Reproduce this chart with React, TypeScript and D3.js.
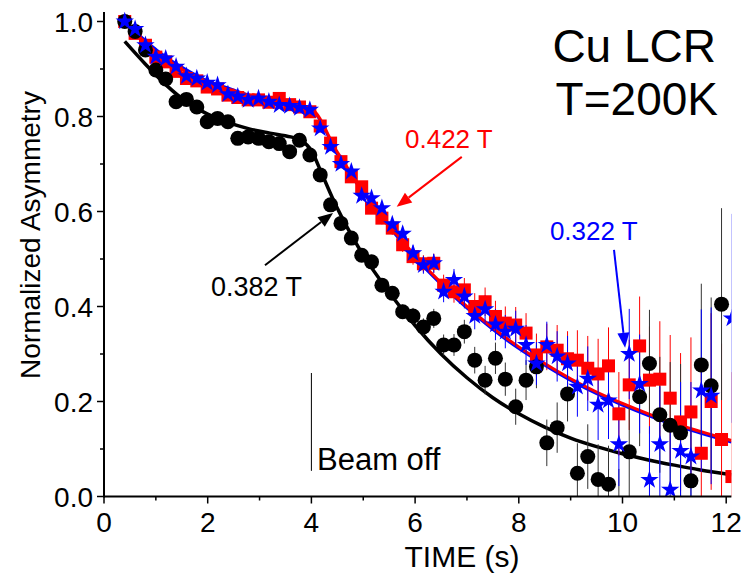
import React from 'react';
import * as d3 from 'd3';

// time bins (s)
const times = [0.40,0.60,0.80,1.00,1.19,1.39,1.59,1.79,1.99,2.19,2.39,2.58,2.78,2.98,3.18,3.38,3.58,3.77,3.97,4.17,4.37,4.57,4.77,4.97,5.16,5.36,5.56,5.76,5.96,6.16,6.36,6.55,6.75,6.95,7.15,7.35,7.55,7.74,7.94,8.14,8.34,8.54,8.74,8.94,9.13,9.33,9.53,9.73,9.93,10.13,10.33,10.52,10.72,10.92,11.12,11.32,11.52,11.71,11.91,12.11];

// 0.382 T (black circles)
const black = [1.0,0.979,0.94,0.898,0.879,0.831,0.836,0.82,0.789,0.796,0.789,0.754,0.757,0.754,0.747,0.743,0.726,0.75,0.719,0.677,0.614,0.575,0.544,0.508,0.494,0.445,0.428,0.389,0.38,0.357,0.375,0.319,0.319,0.347,0.287,0.245,0.291,0.247,0.189,0.245,0.273,0.113,0.145,0.216,0.049,0.084,0.036,0.026,-0.03,0.094,0.21,0.28,0.172,0.15,0.134,0.033,0.277,0.233,0.405];

// 0.422 T (red squares)
const red = [1.0,0.975,0.95,0.925,0.915,0.895,0.88,0.875,0.862,0.858,0.845,0.84,0.835,0.835,0.83,0.838,0.825,0.82,0.81,0.78,0.744,0.705,0.673,0.652,0.607,0.586,0.565,0.53,0.505,0.49,0.491,0.445,0.431,0.435,0.40,0.41,0.379,0.365,0.361,0.344,0.298,0.315,0.308,0.29,0.287,0.27,0.258,0.275,0.174,0.235,0.317,0.245,0.247,0.207,0.157,0.178,0.091,0.2,0.12,0.042];

// 0.322 T (blue stars); null = not visible
const blue: (number | null)[] = [1.0,0.984,0.95,0.926,0.922,0.905,0.885,0.88,0.871,0.866,0.847,0.842,0.835,0.838,0.831,0.824,0.822,0.818,0.814,0.775,0.736,0.70,0.684,0.633,0.628,0.607,0.573,0.553,0.512,0.487,0.491,0.431,0.456,0.421,0.38,0.394,0.362,0.347,0.353,0.319,0.28,0.319,0.295,0.28,0.231,0.248,0.193,0.202,0.11,0.30,0.237,0.035,0.11,0.014,0.096,0.084,0.223,0.212,null,0.375];

// error bars (half-length)
const errs = [0.002,0.002,0.002,0.002,0.003,0.003,0.003,0.003,0.003,0.004,0.004,0.004,0.004,0.005,0.005,0.006,0.006,0.007,0.007,0.008,0.009,0.009,0.010,0.011,0.012,0.013,0.014,0.015,0.017,0.018,0.020,0.022,0.023,0.025,0.028,0.030,0.033,0.035,0.038,0.042,0.045,0.049,0.053,0.058,0.063,0.068,0.074,0.081,0.088,0.095,0.104,0.113,0.122,0.133,0.145,0.157,0.171,0.186,0.202,0.220];

// fit curves
const fitTBlack = [0.4,0.8,1.2,1.6,2.0,2.4,2.8,3.2,3.6,3.8,4.0,4.2,4.4,4.6,4.8,5.0,5.5,6.0,6.5,7.0,7.5,8.0,8.5,9.0,9.5,10.0,10.5,11.0,11.5,12.1];
const fitBlack = [0.958,0.91,0.866,0.83,0.805,0.787,0.774,0.765,0.757,0.75,0.728,0.68,0.63,0.585,0.545,0.508,0.43,0.36,0.3,0.25,0.208,0.174,0.146,0.123,0.105,0.09,0.077,0.066,0.056,0.046];
const fitT = [0.4,0.8,1.2,1.6,2.0,2.4,2.8,3.2,3.6,4.0,4.5,5.0,5.5,6.0,6.5,7.0,7.5,8.0,8.5,9.0,9.5,10.0,10.5,11.0,11.5,12.1];
const fitRed = [1.0,0.955,0.92,0.893,0.872,0.857,0.845,0.835,0.826,0.816,0.725,0.643,0.571,0.507,0.45,0.40,0.355,0.315,0.28,0.248,0.22,0.196,0.174,0.154,0.137,0.118];
const fitBlue = [1.0,0.96,0.925,0.898,0.875,0.86,0.845,0.835,0.824,0.814,0.72,0.639,0.567,0.503,0.446,0.396,0.351,0.311,0.276,0.244,0.216,0.192,0.17,0.15,0.133,0.114];

const xTicks = [0, 2, 4, 6, 8, 10, 12];
const xMinor = [1, 3, 5, 7, 9, 11];
const yTicks = [0, 0.2, 0.4, 0.6, 0.8, 1.0];
const yMinor = [0.1, 0.3, 0.5, 0.7, 0.9];

const FONT = "'Liberation Sans', Arial, sans-serif";

export default function App() {
  const W = 741, H = 573;
  const x = d3.scaleLinear().domain([0, 12.1]).range([104, 104 + 12.1 * 51.85]);
  const y = d3.scaleLinear().domain([0, 1.02]).range([496.5, 496.5 - 1.02 * 475]);
  const [x0, x1] = x.range();
  const [y0, y1] = y.range();

  const line = d3.line<[number, number]>().x(d => x(d[0])).y(d => y(d[1])).curve(d3.curveMonotoneX);
  const starPath = d3.symbol().type(d3.symbolStar).size(105)() as string;

  const fits: [number[], number[], string, number][] = [
    [fitTBlack, fitBlack, '#000', 3.5],
    [fitT, fitBlue, '#0000ff', 2.5],
    [fitT, fitRed, '#ff0000', 3],
  ];

  const arrow = (ax: number, ay: number, bx: number, by: number, color: string, key: string) => {
    const X1 = x(ax), Y1 = y(ay), X2 = x(bx), Y2 = y(by);
    const ang = Math.atan2(Y2 - Y1, X2 - X1);
    const L = 15, Wd = 6;
    const bxp = X2 - L * Math.cos(ang), byp = Y2 - L * Math.sin(ang);
    const p1 = [bxp + Wd * Math.sin(ang), byp - Wd * Math.cos(ang)];
    const p2 = [bxp - Wd * Math.sin(ang), byp + Wd * Math.cos(ang)];
    return (
      <g key={key}>
        <line x1={X1} y1={Y1} x2={bxp} y2={byp} stroke={color} strokeWidth={2} />
        <polygon points={`${X2},${Y2} ${p1[0]},${p1[1]} ${p2[0]},${p2[1]}`} fill={color} />
      </g>
    );
  };

  const blueIdx = blue.map((v, i) => i).filter(i => blue[i] !== null);

  return (
    <svg width={W} height={H} style={{ position: 'absolute', left: 0, top: 0, background: '#fff' }} fontFamily={FONT}>
      <defs>
        <clipPath id="plot">
          <rect x={x0} y={0} width={x1 - x0} height={y0} />
        </clipPath>
      </defs>
      <g clipPath="url(#plot)">
        {fits.map(([ts, vals, c, w], i) => (
          <path key={'f' + i} d={line(ts.map((t, j) => [t, vals[j]]) as [number, number][]) as string} fill="none" stroke={c} strokeWidth={w} />
        ))}
        {/* error bars */}
        {red.map((v, i) => (
          <line key={'re' + i} x1={x(times[i])} x2={x(times[i])} y1={y(v - errs[i])} y2={y(v + errs[i])} stroke="#ff0000" strokeWidth={1} />
        ))}
        {black.map((v, i) => (
          <line key={'be' + i} x1={x(times[i])} x2={x(times[i])} y1={y(v - errs[i])} y2={y(v + errs[i])} stroke="#333" strokeWidth={1} />
        ))}
        {blueIdx.map(i => (
          <line key={'ue' + i} x1={x(times[i])} x2={x(times[i])} y1={y((blue[i] as number) - errs[i])} y2={y((blue[i] as number) + errs[i])} stroke="#0000ff" strokeWidth={1} />
        ))}
        {red.map((v, i) => (
          <rect key={'r' + i} x={x(times[i]) - 6.5} y={y(v) - 6.5} width={13} height={13} fill="#ff0000" />
        ))}
        {black.map((v, i) => (
          <circle key={'b' + i} cx={x(times[i])} cy={y(v)} r={7.5} fill="#000" />
        ))}
        {blueIdx.map(i => (
          <path key={'u' + i} d={starPath} transform={`translate(${x(times[i])},${y(blue[i] as number)})`} fill="#0000ff" />
        ))}
      </g>

      {/* axes */}
      <line x1={x0} x2={x1} y1={y0} y2={y0} stroke="#000" strokeWidth={2} />
      <line x1={x0} x2={x0} y1={y0 + 1} y2={y1} stroke="#000" strokeWidth={2} />
      {xTicks.map(t => (
        <g key={'xt' + t}>
          <line x1={x(t)} x2={x(t)} y1={y0} y2={y0 + 7} stroke="#000" strokeWidth={1.5} />
          <text x={x(t)} y={y0 + 35} textAnchor="middle" fontSize={28}>{t}</text>
        </g>
      ))}
      {xMinor.map(t => (
        <line key={'xm' + t} x1={x(t)} x2={x(t)} y1={y0} y2={y0 + 4} stroke="#000" strokeWidth={1.5} />
      ))}
      {yTicks.map(t => (
        <g key={'yt' + t}>
          <line x1={x0} x2={x0 - 7} y1={y(t)} y2={y(t)} stroke="#000" strokeWidth={1.5} />
          <text x={x0 - 11} y={y(t) + 10} textAnchor="end" fontSize={28}>{t.toFixed(1)}</text>
        </g>
      ))}
      {yMinor.map(t => (
        <line key={'ym' + t} x1={x0} x2={x0 - 4} y1={y(t)} y2={y(t)} stroke="#000" strokeWidth={1.5} />
      ))}
      <text x={462} y={567} textAnchor="middle" fontSize={30}>TIME (s)</text>
      <text transform={`translate(40,235) rotate(-90)`} textAnchor="middle" fontSize={28}>Normalized Asymmetry</text>

      {/* annotations */}
      <text x={716} y={62} textAnchor="end" fontSize={46}>Cu LCR</text>
      <text x={718} y={115} textAnchor="end" fontSize={46}>T=200K</text>
      <text x={x(5.805)} y={y(0.734)} fontSize={26} fill="#ff0000">0.422 T</text>
      <text x={x(8.6)} y={y(0.54)} fontSize={26} fill="#0000ff">0.322 T</text>
      <text x={x(2.064)} y={y(0.422)} fontSize={27} fill="#000">0.382 T</text>
      {arrow(6.9, 0.715, 5.645, 0.61, '#ff0000', 'ar')}
      {arrow(9.836, 0.519, 10.05, 0.313, '#0000ff', 'ab')}
      {arrow(3.105, 0.487, 4.417, 0.597, '#000', 'ak')}
      <line x1={x(4)} x2={x(4)} y1={y(0.26)} y2={y(0.054)} stroke="#000" strokeWidth={1} />
      <text x={x(4.108)} y={y(0.056)} fontSize={31}>Beam off</text>
    </svg>
  );
}
